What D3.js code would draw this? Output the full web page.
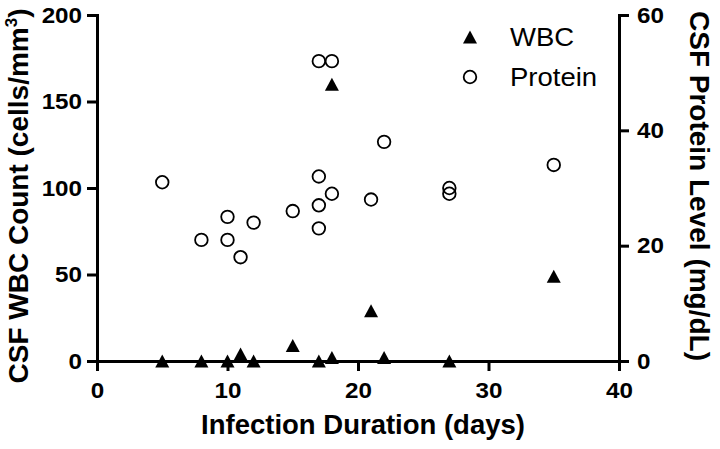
<!DOCTYPE html>
<html>
<head>
<meta charset="utf-8">
<script src="https://cdn.jsdelivr.net/npm/d3@7"></script>
<style>
body{margin:0;background:#fff;}
svg{display:block;font-family:"Liberation Sans",Arial,Helvetica,sans-serif;}
</style>
</head>
<body>
<div id="chart"></div>
<script>
// WBC count per patient (left axis, cells/mm3)
const wbcDays  = [5, 8, 10, 11, 12, 15, 17, 18, 18, 21, 22, 27, 35];
const wbcCount = [0, 0, 0, 4, 0, 9, 0, 160, 2, 29, 2, 0, 49];

// protein level per patient (right axis, mg/dL)
const protDays  = [5, 8, 10, 10, 11, 12, 15, 17, 18, 17, 17, 17, 18, 21, 22, 27, 27, 35];
const protLevel = [31, 21, 25, 21, 18, 24, 26, 52, 52, 32, 27, 23, 29, 28, 38, 30, 29, 34];

const xTicks      = [0, 10, 20, 30, 40];
const yLeftTicks  = [0, 50, 100, 150, 200];
const yRightTicks = [0, 20, 40, 60];
const legendNames = ["WBC", "Protein"];

const W = 720, H = 449;
const sx = 1.1; // tick and legend text in the picture is a bit wide

const svg = d3.select('#chart').append('svg')
  .attr('width', W).attr('height', H);

const x  = d3.scaleLinear().domain([0, 40]).range([97, 619]);
const yL = d3.scaleLinear().domain([0, 200]).range([361, 15]);
const yR = d3.scaleLinear().domain([0, 60]).range([361, 15]);

function styleAxis(g) {
  g.select('.domain').attr('stroke', '#000').attr('stroke-width', 3).attr('stroke-linecap', 'square');
  g.selectAll('.tick line').attr('stroke', '#000').attr('stroke-width', 3);
  g.selectAll('.tick text')
    .attr('fill', '#000')
    .attr('font-size', 22)
    .attr('font-weight', 'bold')
    .attr('font-family', '"Liberation Sans",Arial,sans-serif')
    .each(function() {
      let t = d3.select(this);
      let xx = +t.attr('x') || 0;
      t.attr('x', xx / sx).attr('transform', `scale(${sx},1)`);
    });
}

svg.append('g')
  .attr('transform', 'translate(0,361)')
  .call(d3.axisBottom(x).tickValues(xTicks).tickSize(10).tickSizeOuter(0).tickPadding(11))
  .call(styleAxis);

svg.append('g')
  .attr('transform', 'translate(97,0)')
  .call(d3.axisLeft(yL).tickValues(yLeftTicks).tickSize(10).tickSizeOuter(0).tickPadding(5))
  .call(styleAxis);

svg.append('g')
  .attr('transform', 'translate(619,0)')
  .call(d3.axisRight(yR).tickValues(yRightTicks).tickSize(10).tickSizeOuter(0).tickPadding(8))
  .call(styleAxis);

// triangle marker, centred on its box
const tri = 'M0,-6.5L7,6.5L-7,6.5Z';

svg.append('g').selectAll('path')
  .data(wbcDays.map((d, i) => [d, wbcCount[i]]))
  .enter().append('path')
  .attr('d', tri)
  .attr('transform', d => `translate(${x(d[0])},${yL(d[1])})`)
  .attr('fill', '#000');

svg.append('g').selectAll('circle')
  .data(protDays.map((d, i) => [d, protLevel[i]]))
  .enter().append('circle')
  .attr('cx', d => x(d[0]))
  .attr('cy', d => yR(d[1]))
  .attr('r', 6.3)
  .attr('fill', 'none')
  .attr('stroke', '#000')
  .attr('stroke-width', 1.8);

// legend
const leg = svg.append('g').attr('transform', 'translate(470,37)');
leg.append('path').attr('d', tri).attr('fill', '#000');
leg.append('circle').attr('cx', 0).attr('cy', 40).attr('r', 6.3)
  .attr('fill', 'none').attr('stroke', '#000').attr('stroke-width', 1.8);
leg.selectAll('text')
  .data(legendNames)
  .enter().append('text')
  .attr('transform', (d, i) => `translate(40,${i * 40 + 8.5}) scale(${sx},1)`)
  .attr('font-size', 25)
  .attr('fill', '#000')
  .text(d => d);

// axis titles
svg.append('text')
  .attr('transform', 'translate(363,434)')
  .attr('text-anchor', 'middle')
  .attr('font-size', 27.5)
  .attr('font-weight', 'bold')
  .text('Infection Duration (days)');

const tl = svg.append('text')
  .attr('transform', 'translate(28,196) rotate(-90)')
  .attr('text-anchor', 'middle')
  .attr('font-size', 28)
  .attr('font-weight', 'bold')
  .text('CSF WBC Count (cells/mm');
tl.append('tspan').attr('dy', -11).attr('font-size', 17).text('3');
tl.append('tspan').attr('dy', 11).text(')');

svg.append('text')
  .attr('transform', 'translate(690,186) rotate(90)')
  .attr('text-anchor', 'middle')
  .attr('font-size', 28)
  .attr('font-weight', 'bold')
  .text('CSF Protein Level (mg/dL)');
</script>
</body>
</html>
